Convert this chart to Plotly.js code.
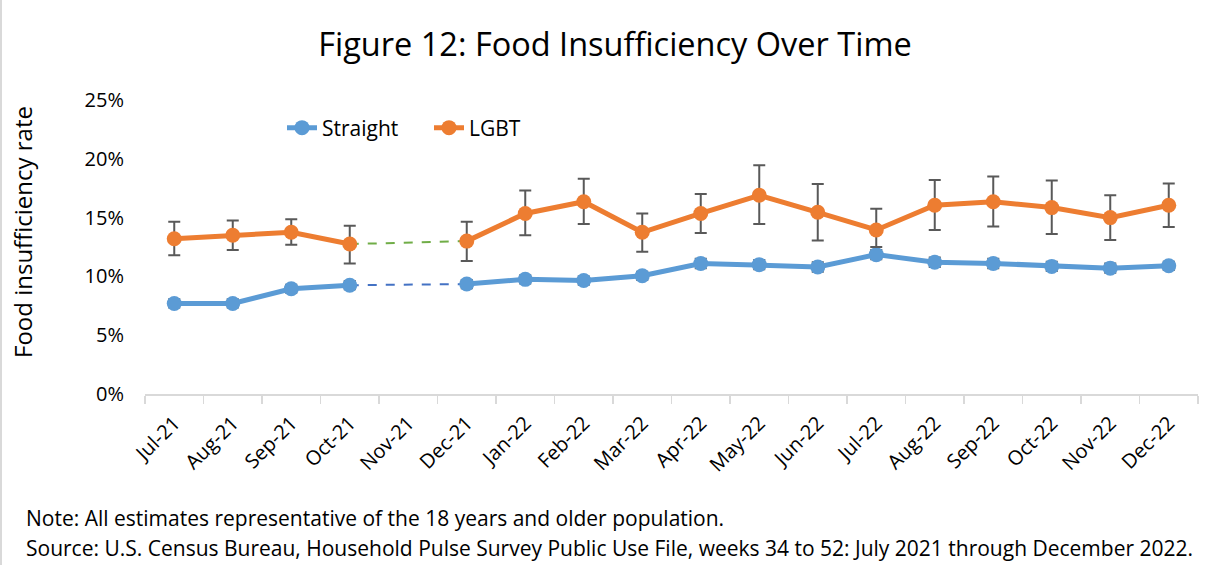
<!DOCTYPE html>
<html>
<head>
<meta charset="utf-8">
<script src="https://cdn.plot.ly/plotly-3.0.1.min.js"></script>
<style>
html,body{margin:0;padding:0;background:#fff;}
#wrap{position:relative;width:1230px;height:575px;}
#chart{width:1230px;height:575px;}
#edge{position:absolute;left:0;top:0;width:2px;height:565px;background:#D9D9D9;}
</style>
</head>
<body>
<div id="wrap"><div id="chart"></div><div id="edge"></div></div>
<script>
const months = ["Jul-21","Aug-21","Sep-21","Oct-21","Nov-21","Dec-21","Jan-22","Feb-22","Mar-22","Apr-22","May-22","Jun-22","Jul-22","Aug-22","Sep-22","Oct-22","Nov-22","Dec-22"];
const straight = [7.7, 7.7, 8.95, 9.25, null, 9.35, 9.75, 9.65, 10.05, 11.1, 11.0, 10.8, 11.85, 11.2, 11.1, 10.85, 10.7, 10.9];
const straightLow = [7.35, 7.35, 8.6, 8.9, null, 9.0, 9.4, 9.3, 9.7, 10.7, 10.6, 10.4, 11.45, 10.8, 10.7, 10.45, 10.3, 10.55];
const straightHigh = [8.05, 8.05, 9.3, 9.6, null, 9.7, 10.1, 10.0, 10.4, 11.5, 11.4, 11.2, 12.25, 11.6, 11.5, 11.25, 11.1, 11.25];
const lgbt = [13.2, 13.5, 13.75, 12.75, null, 13.0, 15.35, 16.35, 13.75, 15.35, 16.9, 15.45, 13.95, 16.05, 16.35, 15.85, 15.0, 16.05];
const lgbtLow = [11.8, 12.25, 12.7, 11.1, null, 11.3, 13.5, 14.45, 12.1, 13.7, 14.45, 13.05, 12.5, 13.95, 14.25, 13.6, 13.1, 14.2];
const lgbtHigh = [14.65, 14.75, 14.85, 14.3, null, 14.65, 17.3, 18.3, 15.35, 17.0, 19.45, 17.85, 15.75, 18.2, 18.5, 18.15, 16.9, 17.9];
const yTicks = [0, 5, 10, 15, 20, 25];

const titleText = "Figure 12: Food Insufficiency Over Time";
const yTitle = "Food insufficiency rate";
const note1 = "Note: All estimates representative of the 18 years and older population.";
const note2 = "Source: U.S. Census Bureau, Household Pulse Survey Public Use File, weeks 34 to 52: July 2021 through December 2022.";

const FONT = "'Open Sans', sans-serif";
const BLUE = "#5B9BD5", ORANGE = "#ED7D31", ERR = "#595959";

function errs(v, lo, hi){
  return {
    type: "data", symmetric: false,
    array: v.map((x,i)=> x==null?null:hi[i]-x),
    arrayminus: v.map((x,i)=> x==null?null:x-lo[i]),
    color: ERR, thickness: 2, width: 6, visible: true
  };
}

const gapA = months.indexOf("Oct-21"), gapB = months.indexOf("Dec-21");

const traces = [
  {x:[months[gapA], months[gapB]], y:[lgbt[gapA], lgbt[gapB]], mode:"lines", line:{color:"#70AD47", width:2, dash:"dash"}, showlegend:false, hoverinfo:"skip"},
  {x:[months[gapA], months[gapB]], y:[straight[gapA], straight[gapB]], mode:"lines", line:{color:"#4472C4", width:2, dash:"dash"}, showlegend:false, hoverinfo:"skip"},
  {x:months, y:straight, name:"Straight", mode:"lines+markers", line:{color:BLUE, width:5}, marker:{color:BLUE, size:15}, error_y: errs(straight, straightLow, straightHigh), connectgaps:false},
  {x:months, y:lgbt, name:"LGBT", mode:"lines+markers", line:{color:ORANGE, width:5}, marker:{color:ORANGE, size:15}, error_y: errs(lgbt, lgbtLow, lgbtHigh), connectgaps:false}
];

const PL = 145, PW = 1053, PB = 394, PH = 294;

const layout = {
  width:1230, height:575,
  paper_bgcolor:"#fff", plot_bgcolor:"#fff",
  margin:{l:PL, r:1230-PL-PW, t:PB-PH, b:575-PB},
  font:{family:FONT, color:"#000"},
  title:{text:titleText, font:{family:FONT, size:32.5, color:"#000"}, x:0.5, xanchor:"center", y:1-45/575, yanchor:"middle"},
  showlegend:true,
  legend:{orientation:"h", x:(282-PL)/PW, xanchor:"left", y:(PB-128)/PH, yanchor:"middle", font:{family:FONT, size:21}, bgcolor:"rgba(0,0,0,0)", traceorder:"normal", entrywidth:102, entrywidthmode:"pixels"},
  xaxis:{type:"category", categoryarray:months, categoryorder:"array", range:[-0.5, months.length-0.5],
    showline:true, linecolor:"#D9D9D9", linewidth:1.5, ticks:"outside", tickson:"boundaries", ticklen:8, tickcolor:"#D9D9D9", tickwidth:1.5,
    tickangle:-45, tickfont:{family:FONT, size:20}, ticklabelstandoff:8, showgrid:false, zeroline:false, fixedrange:true},
  yaxis:{range:[0,25], tickvals:yTicks, ticktext:yTicks.map(v=>v+"%"), tickfont:{family:FONT, size:20}, showgrid:false, zeroline:false, showline:false, ticks:"", ticklabelstandoff:20},
  annotations:[
    {text:yTitle, textangle:-90, xref:"paper", yref:"paper", x:(22-PL)/PW, y:(PB-232)/PH, xanchor:"center", yanchor:"middle", showarrow:false, font:{family:FONT, size:24}},
    {text:note1, xref:"paper", yref:"paper", x:(24-PL)/PW, y:(PB-518)/PH, xanchor:"left", yanchor:"middle", showarrow:false, font:{family:FONT, size:21}},
    {text:note2, xref:"paper", yref:"paper", x:(24-PL)/PW, y:(PB-548)/PH, xanchor:"left", yanchor:"middle", showarrow:false, font:{family:FONT, size:21}}
  ]
};

Plotly.newPlot("chart", traces, layout, {staticPlot:true, displayModeBar:false});
</script>
</body>
</html>
